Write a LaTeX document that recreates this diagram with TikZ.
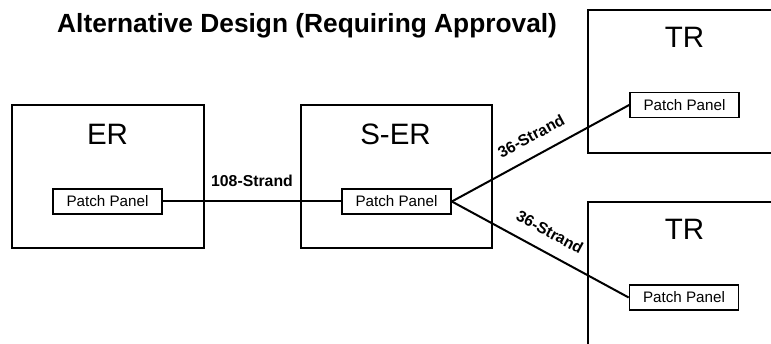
\documentclass[tikz,border=0pt]{standalone}
\usepackage{fontspec}
\setmainfont{Liberation Sans}
\begin{document}
\begin{tikzpicture}[x=1pt,y=1pt,
  room/.style={draw, line width=2pt, rectangle, inner sep=0pt},
  panel/.style={draw, line width=1.7pt, rectangle, inner sep=0pt,
    minimum width=109pt, minimum height=25pt, font=\fontsize{15.2}{18}\selectfont},
  roomlabel/.style={inner sep=0pt, font=\fontsize{29.5}{34}\selectfont},
  strand/.style={inner sep=0pt, font=\bfseries\fontsize{15.8}{18}\selectfont},
  cable/.style={line width=2pt}]
\useasboundingbox (0,0) rectangle (771,-344);
\clip (0,0) rectangle (771,-344);

% title
\node[anchor=base west, inner sep=0pt, font=\bfseries\fontsize{26.3}{30}\selectfont]
  (title) at (57,-33) {Alternative Design (Requiring Approval)};

% rooms
\node[room, minimum width=192pt, minimum height=143pt] (er)  at (108,-176.5) {};
\node[room, minimum width=191pt, minimum height=143pt] (ser) at (396.5,-176.5) {};
\node[room, minimum width=212pt, minimum height=143pt] (trA) at (694,-81.5) {};
\node[room, minimum width=212pt, minimum height=143pt] (trB) at (694,-273.5) {};

% room names
\node[roomlabel] (erlbl)  at (107.5,-134) {ER};
\node[roomlabel] (serlbl) at (395.5,-134) {S-ER};
\node[roomlabel] (trAlbl) at (684.5,-37.5) {TR};
\node[roomlabel] (trBlbl) at (684.5,-229.5) {TR};

% patch panels
\node[panel] (erpp)  at (107.5,-201.5) {Patch Panel};
\node[panel] (serpp) at (396.5,-201.5) {Patch Panel};
\node[panel] (trApp) at (684.5,-105) {Patch Panel};
\node[panel] (trBpp) at (684,-297.5) {Patch Panel};

% fibre runs
\draw[cable] (erpp.east) -- (serpp.west);
\draw[cable] (serpp.east) -- (trApp.west);
\draw[cable] (serpp.east) -- (trBpp.west);

% strand counts, set along each run
\node[strand] (lblA) at (252,-181) {108-Strand};
\node[strand, rotate=28.2]  (lblB) at (531,-136) {36-Strand};
\node[strand, rotate=-28.2] (lblC) at (550,-232) {36-Strand};
\end{tikzpicture}
\end{document}
